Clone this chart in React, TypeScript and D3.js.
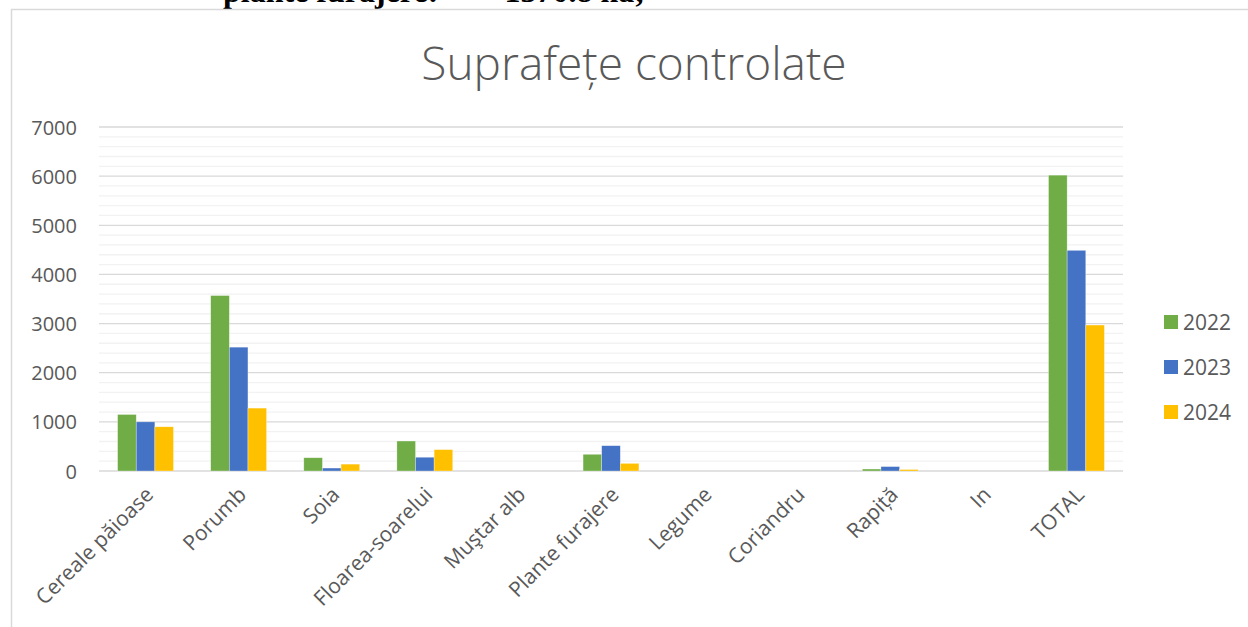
import { useEffect, useRef } from 'react'
import * as d3 from 'd3'

const categories = [
  'Cereale păioase', 'Porumb', 'Soia', 'Floarea-soarelui', 'Muştar alb',
  'Plante furajere', 'Legume', 'Coriandru', 'Rapiță', 'In', 'TOTAL',
]
const years = ['2022', '2023', '2024']
const values2022 = [1150, 3570, 270, 610, 0, 340, 0, 0, 40, 0, 6020]
const values2023 = [1000, 2520, 60, 280, 0, 515, 0, 0, 90, 0, 4490]
const values2024 = [900, 1280, 140, 435, 0, 155, 0, 0, 30, 0, 2970]
const yTicks = [0, 1000, 2000, 3000, 4000, 5000, 6000, 7000]
const colors = ['#70AD47', '#4472C4', '#FFC000']

const W = 1248
const H = 627

export default function App() {
  const svgRef = useRef<SVGSVGElement>(null)

  useEffect(() => {
    if (!svgRef.current) return
    const svg = d3.select(svgRef.current)
    svg.selectAll('*').remove()

    const series = [values2022, values2023, values2024]
    const font = '"Open Sans", sans-serif'
    const textColor = '#595959'

    svg.append('rect').attr('width', W).attr('height', H).attr('fill', '#fff')

    // cut off line of document text above the chart
    svg.append('text')
      .attr('x', 223).attr('y', 1.5)
      .attr('font-family', '"Liberation Serif", serif')
      .attr('font-weight', 'bold')
      .attr('font-size', 32)
      .attr('fill', '#000')
      .text('plante furajere:')
    svg.append('text')
      .attr('x', 645).attr('y', 1.5)
      .attr('text-anchor', 'end')
      .attr('font-family', '"Liberation Serif", serif')
      .attr('font-weight', 'bold')
      .attr('font-size', 32)
      .attr('fill', '#000')
      .text('1370.8 ha;')

    // chart frame
    svg.append('rect')
      .attr('x', 11.5).attr('y', 9.5)
      .attr('width', W + 20).attr('height', H + 20)
      .attr('fill', '#fff')
      .attr('stroke', '#d9d9d9')
      .attr('stroke-width', 1.5)

    // title
    svg.append('text')
      .attr('x', 634).attr('y', 80)
      .attr('text-anchor', 'middle')
      .attr('font-family', font)
      .attr('font-weight', 300)
      .attr('font-size', 46)
      .attr('fill', textColor)
      .text('Suprafețe controlate')

    const x0 = d3.scaleBand<string>()
      .domain(categories)
      .range([99, 1123])
      .paddingInner(0.4)
      .paddingOuter(0.2)
    const x1 = d3.scaleBand<string>()
      .domain(years)
      .range([0, x0.bandwidth()])
    const y = d3.scaleLinear().domain([0, 7000]).range([471, 127])

    // minor grid
    const minor = d3.range(200, 7000, 200).filter(v => v % 1000 !== 0)
    svg.append('g').selectAll('line').data(minor).join('line')
      .attr('x1', 99).attr('x2', 1123)
      .attr('y1', d => y(d)).attr('y2', d => y(d))
      .attr('stroke', '#f2f2f2').attr('stroke-width', 1.3)

    // major grid
    svg.append('g').selectAll('line').data(yTicks).join('line')
      .attr('x1', 99).attr('x2', 1123)
      .attr('y1', d => y(d)).attr('y2', d => y(d))
      .attr('stroke', '#d9d9d9').attr('stroke-width', 1.3)

    // y labels
    svg.append('g').selectAll('text').data(yTicks).join('text')
      .attr('x', 77).attr('y', d => y(d))
      .attr('text-anchor', 'end')
      .attr('dominant-baseline', 'central')
      .attr('font-family', font)
      .attr('font-size', 20)
      .attr('fill', textColor)
      .text(d => d)

    // bars
    series.forEach((vals, si) => {
      svg.append('g').selectAll('rect').data(vals).join('rect')
        .attr('x', (_, i) => (x0(categories[i]) ?? 0) + (x1(years[si]) ?? 0))
        .attr('y', d => y(d))
        .attr('width', x1.bandwidth())
        .attr('height', d => y(0) - y(d))
        .attr('fill', colors[si])
        .attr('stroke', '#fff')
        .attr('stroke-opacity', 0.5)
        .attr('stroke-width', 0.6)
    })

    // category labels
    svg.append('g').selectAll('text').data(categories).join('text')
      .attr('transform', d => `translate(${(x0(d) ?? 0) + x0.bandwidth() / 2 + 9}, 496) rotate(-45)`)
      .attr('text-anchor', 'end')
      .attr('font-family', font)
      .attr('font-size', 21)
      .attr('fill', textColor)
      .text(d => d)

    // legend
    const legend = svg.append('g').selectAll('g').data(years).join('g')
      .attr('transform', (_, i) => `translate(1164, ${322 + i * 45})`)
    legend.append('rect')
      .attr('x', 0).attr('y', -7)
      .attr('width', 14).attr('height', 14)
      .attr('fill', (_, i) => colors[i])
    legend.append('text')
      .attr('x', 19).attr('y', 0)
      .attr('dominant-baseline', 'central')
      .attr('font-family', font)
      .attr('font-size', 21)
      .attr('fill', textColor)
      .text(d => d)
  }, [])

  return (
    <div style={{ position: 'absolute', left: 0, top: 0 }}>
      <svg ref={svgRef} width={W} height={H} style={{ display: 'block' }} />
    </div>
  )
}
